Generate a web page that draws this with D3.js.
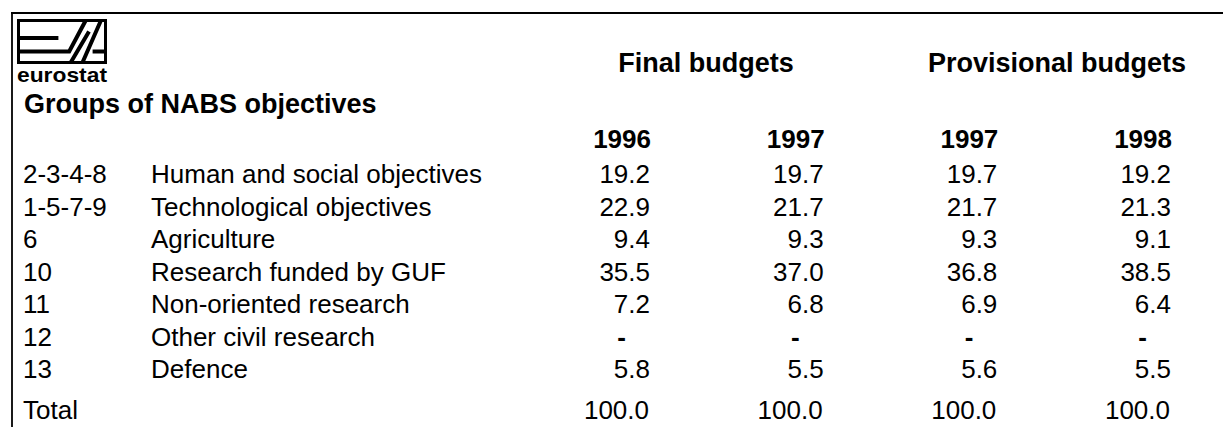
<!DOCTYPE html>
<html><head><meta charset="utf-8">
<script src="https://cdn.jsdelivr.net/npm/d3@7"></script>
<style>html,body{margin:0;padding:0;background:#fff;}svg{display:block;}</style>
</head><body>
<svg id="c" width="1223" height="427"></svg>
<script>
const codes = ["2-3-4-8","1-5-7-9","6","10","11","12","13"];
const labels = ["Human and social objectives","Technological objectives","Agriculture","Research funded by GUF","Non-oriented research","Other civil research","Defence"];
const final1996 = [19.2,22.9,9.4,35.5,7.2,null,5.8];
const final1997 = [19.7,21.7,9.3,37.0,6.8,null,5.5];
const prov1997  = [19.7,21.7,9.3,36.8,6.9,null,5.6];
const prov1998  = [19.2,21.3,9.1,38.5,6.4,null,5.5];
const totals = [100.0,100.0,100.0,100.0];
const yearLabels = ["1996","1997","1997","1998"];
const groupLabels = ["Final budgets","Provisional budgets"];
const totalLabel = "Total";
const title = "Groups of NABS objectives";

const series = [final1996, final1997, prov1997, prov1998];
const colKeys = ["f96","f97","p97","p98"];

const svg = d3.select("#c");
const font = "'Liberation Sans', Arial, Helvetica, sans-serif";
const fs = 26;
const fsb = 27;

// row baselines
const y = d3.scalePoint().domain(d3.range(codes.length)).range([183, 378]);
const yTotal = 419;
const x = d3.scalePoint().domain(colKeys).range([651, 1172]);
const grp = d3.scaleOrdinal().domain(groupLabels).range([706, 1057]);

// borders
svg.append("line").attr("x1",11).attr("x2",1223).attr("y1",13).attr("y2",13).attr("stroke","#000").attr("stroke-width",2);
svg.append("line").attr("x1",12).attr("x2",12).attr("y1",12).attr("y2",427).attr("stroke","#000").attr("stroke-width",1.8);

// logo
const lg = svg.append("g").attr("transform","translate(17,19)");
const W = 90, H = 45;
lg.append("rect").attr("x",1.5).attr("y",1.5).attr("width",W-3).attr("height",H-3).attr("fill","none").attr("stroke","#000").attr("stroke-width",3);
lg.append("path").attr("d",`M2,${H*0.42} H${W*0.46}`).attr("stroke","#000").attr("stroke-width",4).attr("fill","none");
lg.append("path").attr("d",`M2,${H*0.72} H${W*0.58} L${W*0.76},2`).attr("stroke","#000").attr("stroke-width",4).attr("fill","none");
lg.append("path").attr("d",`M${W*0.6},${H-2} L${W*0.8},${H*0.28} M${W*0.73},${H-2} L${W*0.93},2 M${W*0.84},${H*0.72} H${W-2}`).attr("stroke","#000").attr("stroke-width",4).attr("fill","none");
svg.append("text").attr("x",17).attr("y",82).attr("font-family",font).attr("font-size",21).attr("font-weight","bold")
  .attr("textLength",90).attr("lengthAdjust","spacingAndGlyphs").text("eurostat");

const t = (sel) => sel.attr("font-family",font).attr("font-size",fs).attr("fill","#000");

t(svg.append("text")).attr("x",24).attr("y",113).attr("font-size",fsb).attr("font-weight","bold").text(title);

t(svg.selectAll("text.grp").data(groupLabels).join("text").attr("class","grp"))
  .attr("x",d=>grp(d)).attr("y",72).attr("text-anchor","middle").attr("font-size",fsb).attr("font-weight","bold").text(d=>d);

t(svg.selectAll("text.yr").data(yearLabels).join("text").attr("class","yr"))
  .attr("x",(d,i)=>x(colKeys[i])).attr("y",148).attr("text-anchor","end").attr("font-weight","bold").text(d=>d);

t(svg.selectAll("text.code").data(codes).join("text").attr("class","code"))
  .attr("x",23).attr("y",(d,i)=>y(i)).text(d=>d);
t(svg.selectAll("text.lab").data(labels).join("text").attr("class","lab"))
  .attr("x",151).attr("y",(d,i)=>y(i)).text(d=>d);

series.forEach((s,ci)=>{
  t(svg.selectAll("text.v"+ci).data(s).join("text").attr("class","v"+ci))
    .attr("x",d=> d==null ? x(colKeys[ci]) - 25 : x(colKeys[ci]) - 1)
    .attr("y",(d,i)=>y(i)).attr("text-anchor","end")
    .attr("font-weight",d=> d==null ? "bold" : null)
    .text(d=> d==null ? "-" : d3.format(".1f")(d));
});

t(svg.append("text")).attr("x",23).attr("y",yTotal).text(totalLabel);
t(svg.selectAll("text.tot").data(totals).join("text").attr("class","tot"))
  .attr("x",(d,i)=>x(colKeys[i]) - 2).attr("y",yTotal).attr("text-anchor","end").text(d=>d3.format(".1f")(d));
</script>
</body></html>
